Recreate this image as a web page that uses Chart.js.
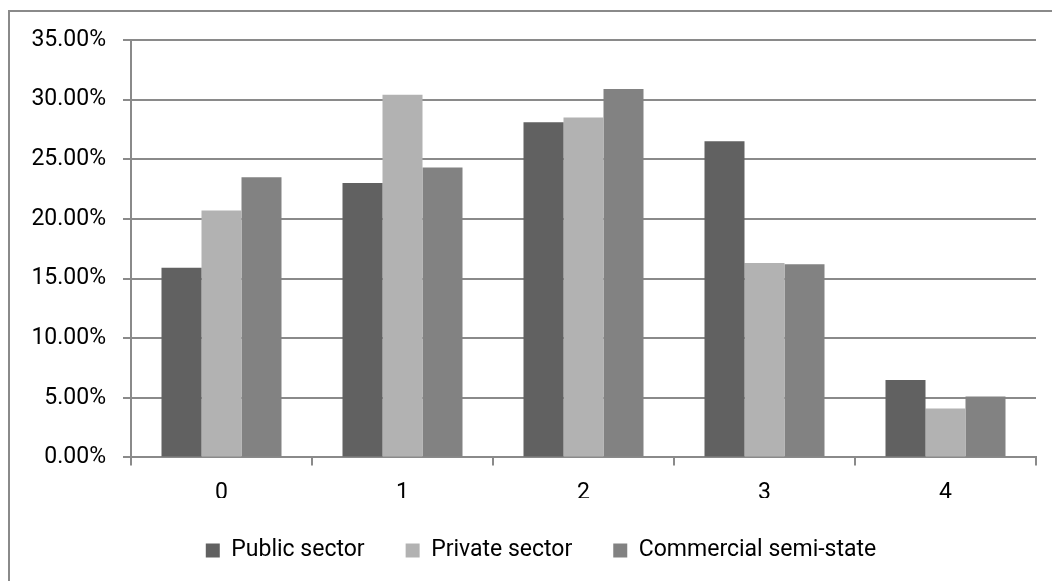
<!DOCTYPE html>
<html>
<head>
<meta charset="utf-8">
<script src="https://cdn.jsdelivr.net/npm/chart.js@4"></script>
<style>
  html, body { margin: 0; padding: 0; background: #fff; }
  #wrap { position: relative; width: 1052px; height: 581px; overflow: hidden; }
  #frame { position: absolute; left: 8px; top: 10px; width: 1060px; height: 600px;
           border-top: 2px solid #8a8a8a; border-left: 2px solid #8a8a8a; box-sizing: border-box; }
  canvas { position: absolute; left: 0; top: 0; }
</style>
</head>
<body>
<div id="wrap">
  <div id="frame"></div>
  <canvas id="chart" width="1052" height="581"></canvas>
</div>
<script>
// Share of respondents by category, per sector (%)
const categories = ["0", "1", "2", "3", "4"];
const publicSector = [15.9, 23.0, 28.1, 26.5, 6.5];
const privateSector = [20.7, 30.4, 28.5, 16.3, 4.1];
const commercialSemiState = [23.5, 24.3, 30.9, 16.2, 5.1];
const yTicks = [0, 5, 10, 15, 20, 25, 30, 35];

const GREY = { dark: "#616161", light: "#b2b2b2", mid: "#828282", axis: "#8a8a8a" };
const FONT = { family: "Roboto, 'Liberation Sans', sans-serif", size: 23 };

// legend in the original sits a bit right of the canvas centre
const legendNudge = {
  id: "legendNudge",
  afterLayout(chart) {
    chart.legend.left += 23;
    chart.legend.right += 23;
  }
};

new Chart(document.getElementById("chart"), {
  type: "bar",
  data: {
    labels: categories,
    datasets: [
      { label: "Public sector", data: publicSector, backgroundColor: GREY.dark },
      { label: "Private sector", data: privateSector, backgroundColor: GREY.light },
      { label: "Commercial semi-state", data: commercialSemiState, backgroundColor: GREY.mid },
    ]
  },
  plugins: [legendNudge],
  options: {
    responsive: false,
    animation: false,
    datasets: { bar: { categoryPercentage: 0.663, barPercentage: 1.0 } },
    layout: { padding: { left: 0, top: 40, right: 16, bottom: 9 } },
    plugins: {
      tooltip: { enabled: false },
      legend: {
        position: "bottom",
        labels: { boxWidth: 14, boxHeight: 14, padding: 41, color: "#000", font: FONT }
      }
    },
    scales: {
      x: {
        grid: { offset: true, drawOnChartArea: false, tickLength: 8, color: GREY.axis, lineWidth: 2 },
        border: { color: GREY.axis, width: 2 },
        ticks: { color: "#000", font: FONT, padding: 14 },
        // legend padding is large (for item spacing), so tighten the axis box
        afterFit: (s) => { s.height = s.height - 23; },
      },
      y: {
        min: 0, max: 35,
        afterBuildTicks: (s) => { s.ticks = yTicks.map(v => ({ value: v })); },
        afterFit: (s) => { s.width = 131; },
        grid: { color: GREY.axis, lineWidth: 2, tickLength: 8 },
        border: { color: GREY.axis, width: 2 },
        ticks: { color: "#000", font: FONT, padding: 17, callback: (v) => v.toFixed(2) + "%" },
      }
    }
  }
});
</script>
</body>
</html>
